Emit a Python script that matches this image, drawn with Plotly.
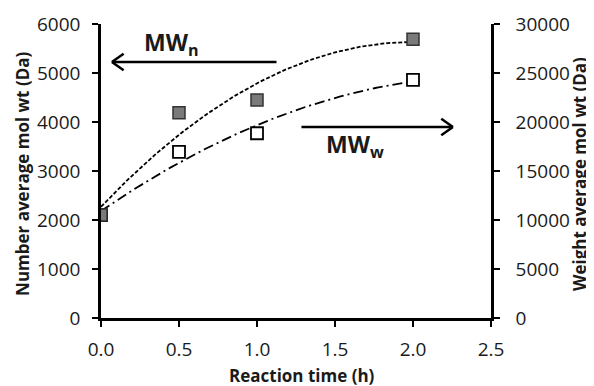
import numpy as np
import plotly.graph_objects as go

time_h = [0.0, 0.5, 1.0, 2.0]
mwn = [2100, 4190, 4450, 5690]
mww = [10500, 16950, 18850, 24300]

x_ticks = [0.0, 0.5, 1.0, 1.5, 2.0, 2.5]
x_tick_labels = ["0.0", "0.5", "1.0", "1.5", "2.0", "2.5"]

# second-order polynomial trendlines fitted to the data (as in the original spreadsheet chart)
xf = np.linspace(min(time_h), max(time_h), 100)
fit_n = np.polyval(np.polyfit(time_h, mwn, 2), xf)
fit_w = np.polyval(np.polyfit(time_h, mww, 2), xf)

FONT = "Open Sans"
TXT = "#1a1a1a"

# right axis (MWw) is the base axis "y"; left axis (MWn) overlays it as "y2" so its marks sit on top
fig = go.Figure()
fig.add_trace(go.Scatter(x=xf, y=fit_w, mode="lines", yaxis="y",
                         line=dict(color="black", width=1.8, dash="10px,4px,2px,4px"),
                         showlegend=False, hoverinfo="skip"))
fig.add_trace(go.Scatter(x=time_h, y=mww, mode="markers", yaxis="y",
                         marker=dict(symbol="square", size=12, color="white",
                                     line=dict(color="black", width=1.8)),
                         showlegend=False))
fig.add_trace(go.Scatter(x=xf, y=fit_n, mode="lines", yaxis="y2",
                         line=dict(color="black", width=1.8, dash="4px,2px"),
                         showlegend=False, hoverinfo="skip"))
fig.add_trace(go.Scatter(x=time_h, y=mwn, mode="markers", yaxis="y2",
                         marker=dict(symbol="square", size=12, color="#7a7a7a",
                                     line=dict(color="#333333", width=1.5)),
                         showlegend=False))

axis_common = dict(showline=True, linecolor="black", linewidth=2.5, ticks="outside",
                   ticklen=6, tickwidth=2, tickcolor="black", showgrid=False,
                   zeroline=False, automargin=False,
                   tickfont=dict(family=FONT, size=19, color=TXT))
title_font = dict(family=FONT, size=17, color=TXT)

# page body adds an 8px margin, so the figure is sized/offset to compensate
fig.update_layout(
    width=586, height=378,
    margin=dict(l=93, r=103, t=16, b=68),
    plot_bgcolor="white", paper_bgcolor="white",
    xaxis=dict(range=[0, 2.5], tickvals=x_ticks, ticktext=x_tick_labels, ticklabelstandoff=6,
               **axis_common),
    yaxis=dict(range=[0, 30000], dtick=5000, side="right", tickformat="d",
               ticklabelstandoff=12, **axis_common),
    yaxis2=dict(range=[0, 6000], dtick=1000, overlaying="y", side="left", tickformat="d",
                ticklabelstandoff=8, **axis_common),
)

# axis titles
fig.add_annotation(text="<b>Reaction time (h)</b>", xref="paper", yref="paper",
                   x=0.515, y=-0.194, xanchor="center", yanchor="middle",
                   showarrow=False, font=title_font)
fig.add_annotation(text="<b>Number average mol wt (Da)</b>", xref="paper", yref="paper",
                   x=-0.2, y=0.49, xanchor="center", yanchor="middle", textangle=-90,
                   showarrow=False, font=title_font)
fig.add_annotation(text="<b>Weight average mol wt (Da)</b>", xref="paper", yref="paper",
                   x=1.2282, y=0.49, xanchor="center", yanchor="middle", textangle=-90,
                   showarrow=False, font=title_font)

# arrows with open V heads (shaft + two arms), positioned in left-axis data coordinates
def arrow(x_tail, x_head, y):
    dx = 0.075 if x_head < x_tail else -0.075
    dy = 170
    for (x0, y0, x1, y1) in [(x_tail, y, x_head, y),
                             (x_head, y, x_head + dx, y + dy),
                             (x_head, y, x_head + dx, y - dy)]:
        fig.add_shape(type="line", xref="x", yref="y2", x0=x0, y0=y0, x1=x1, y1=y1,
                      line=dict(color="black", width=2.5))

arrow(1.125, 0.07, 5224)
arrow(1.285, 2.256, 3898)

fig.add_annotation(x=0.45, y=5600, xref="x", yref="y2", showarrow=False,
                   text="<b>MW<sub>n</sub></b>", font=dict(family=FONT, size=23, color=TXT))
fig.add_annotation(x=1.63, y=3530, xref="x", yref="y2", showarrow=False,
                   text="<b>MW<sub>w</sub></b>", font=dict(family=FONT, size=23, color=TXT))

fig.write_html("out.html")
